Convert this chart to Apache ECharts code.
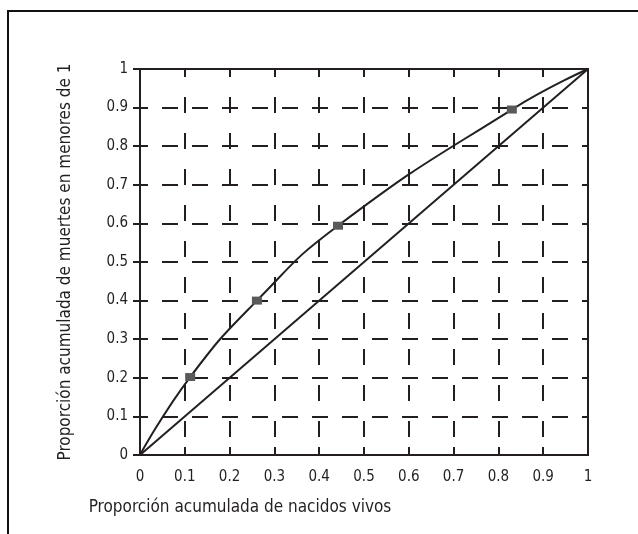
<!DOCTYPE html>
<html>
<head>
<meta charset="utf-8">
<script src="https://cdn.jsdelivr.net/npm/echarts@6/dist/echarts.min.js"></script>
<style>
html,body{margin:0;padding:0;background:#fff;}
#frame{position:absolute;left:7px;top:10px;width:640px;height:540px;border-left:2px solid #111;border-top:2px solid #111;}
#chart{position:absolute;left:0;top:0;width:638px;height:534px;}
</style>
</head>
<body>
<div id="frame"></div>
<div id="chart"></div>
<script>
// Data
const curveX = [0, 0.112, 0.261, 0.442, 0.83, 1];
const curveY = [0, 0.202, 0.400, 0.594, 0.895, 1];
const diagX = [0, 1];
const diagY = [0, 1];
const xTickLabels = ['0','0.1','0.2','0.3','0.4','0.5','0.6','0.7','0.8','0.9','1'];
const yTickLabels = ['0','0.1','0.2','0.3','0.4','0.5','0.6','0.7','0.8','0.9','1'];
const xName = 'Proporción acumulada de nacidos vivos';
const yName = 'Proporción acumulada de muertes en menores de 1';

const FONT = "'Liberation Sans Narrow','DejaVu Sans Condensed','Liberation Sans',sans-serif";
const INK = '#231f20';

const curveData = curveX.map((x, i) => {
  const inner = i > 0 && i < curveX.length - 1;
  return { value: [x, curveY[i]], symbol: inner ? 'rect' : 'none' };
});
const diagData = diagX.map((x, i) => [x, diagY[i]]);

const chart = echarts.init(document.getElementById('chart'));
chart.setOption({
  animation: false,
  backgroundColor: 'transparent',
  grid: { left: 140, right: 50, top: 69, bottom: 79, show: true, borderColor: INK, borderWidth: 2, backgroundColor: 'transparent' },
  xAxis: {
    type: 'value', min: 0, max: 1, interval: 0.1,
    name: xName, nameLocation: 'middle', nameGap: 44,
    nameTextStyle: { fontFamily: FONT, fontSize: 17, color: INK, padding: [0, 248, 0, 0] },
    axisLine: { show: true, lineStyle: { color: INK, width: 2 } },
    axisTick: { show: true, inside: true, length: 8, lineStyle: { color: INK, width: 2 } },
    axisLabel: { fontFamily: FONT, fontSize: 15, color: INK, margin: 15,
      formatter: v => xTickLabels[Math.round(v * 10)] },
    splitLine: { show: true, lineStyle: { color: INK, width: 2, type: [16, 20], dashOffset: 8 } }
  },
  yAxis: {
    type: 'value', min: 0, max: 1, interval: 0.1,
    name: yName, nameLocation: 'middle', nameGap: 66,
    nameTextStyle: { fontFamily: FONT, fontSize: 17, color: INK },
    axisLine: { show: true, lineStyle: { color: INK, width: 2 } },
    axisTick: { show: true, inside: false, length: 7, lineStyle: { color: INK, width: 2 } },
    axisLabel: { fontFamily: FONT, fontSize: 15, color: INK, margin: 12,
      formatter: v => yTickLabels[Math.round(v * 10)] },
    splitLine: { show: true, lineStyle: { color: INK, width: 2, type: [16, 14], dashOffset: 8 } }
  },
  series: [
    {
      type: 'line', data: diagData, symbol: 'none',
      lineStyle: { color: INK, width: 2 }, z: 3
    },
    {
      type: 'line', data: curveData, smooth: 0.5,
      symbolSize: [10, 8], itemStyle: { color: '#5a5a5a' },
      lineStyle: { color: INK, width: 2 }, z: 4
    }
  ]
});
</script>
</body>
</html>
